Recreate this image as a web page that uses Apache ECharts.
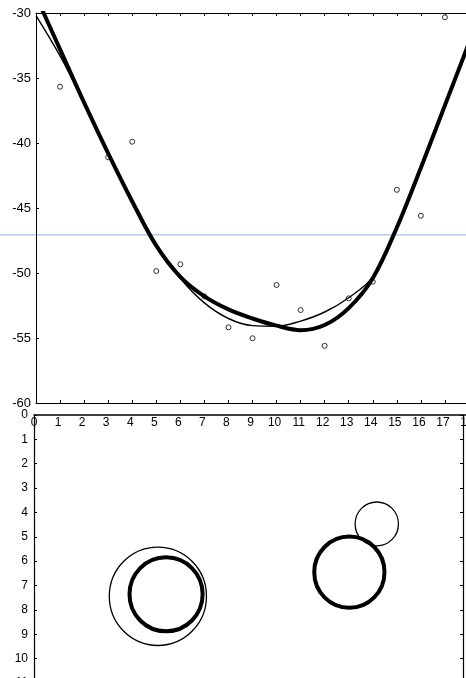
<!DOCTYPE html>
<html><head><meta charset="utf-8">
<script src="https://cdn.jsdelivr.net/npm/echarts@6/dist/echarts.min.js"></script>
<style>html,body{margin:0;padding:0;background:#fff}#c{width:466px;height:678px}</style>
</head><body><div id="c"></div>
<script>
// ---- data ----
const sampleX = [1, 3, 4, 5, 6, 7, 8, 9, 10, 11, 12, 13, 14, 15, 16, 17];
const sampleY = [-35.67, -41.1, -39.9, -49.85, -49.33, -51.8, -54.18, -55.02, -50.92, -52.85, -55.6, -51.95, -50.67, -43.6, -45.6, -30.33];
const fitX = [0, 1, 2, 3, 4, 5, 6, 7, 8, 9, 10, 11, 12, 13, 14, 15, 16, 17, 18];
const thickFit = [-28.7, -32.8, -36.9, -40.8, -44.5, -47.9, -50.3, -51.8, -52.8, -53.5, -54.05, -54.4, -54.0, -52.7, -50.4, -46.5, -41.9, -37.1, -32.3];
const thinFit = [-30.2, -33.3, -36.9, -40.7, -44.4, -47.8, -50.4, -52.3, -53.5, -54.05, -54.1, -53.7, -53.0, -51.9, -50.3, -46.5, -41.9, -37.1, -32.3];
const topYTicks = [-60, -55, -50, -45, -40, -35, -30];
const bottomXTicks = [0, 1, 2, 3, 4, 5, 6, 7, 8, 9, 10, 11, 12, 13, 14, 15, 16, 17, 18];
const bottomYTicks = [0, 1, 2, 3, 4, 5, 6, 7, 8, 9, 10, 11];
// circles: [centerX, centerY, radius]
const thickCircles = [[5.49, 7.36, 1.52], [13.11, 6.45, 1.46]];
const thinCircles = [[5.15, 7.44, 2.02], [14.25, 4.47, 0.9]];

const zip = (a, b) => a.map((v, i) => [v, b[i]]);
const FONT = 'Liberation Sans';
const black = '#000';

function circleRenderer(width) {
  return function (params, api) {
    const c = api.coord([api.value(0), api.value(1)]);
    const s = api.size([api.value(2), api.value(2)]);
    return {
      type: 'ellipse',
      shape: { cx: c[0], cy: c[1], rx: s[0], ry: s[1] },
      style: { fill: 'none', stroke: black, lineWidth: width }
    };
  };
}

const chart = echarts.init(document.getElementById('c'), null, { renderer: 'canvas' });
chart.setOption({
  backgroundColor: '#fff',
  animation: false,
  grid: [
    { left: 36, top: 13, width: 433, height: 390, outerBoundsMode: 'none', containLabel: false },
    { left: 34, top: 415, width: 433, height: 268, outerBoundsMode: 'none', containLabel: false }
  ],
  graphic: [
    { type: 'rect', left: 0, top: 234, z: -1, silent: true,
      shape: { width: 466, height: 1.5 }, style: { fill: '#b4ccef' } }
  ],
  xAxis: [
    { gridIndex: 0, type: 'value', min: bottomXTicks[0], max: bottomXTicks[bottomXTicks.length - 1], interval: 1, position: 'bottom',
      axisLine: { show: true, lineStyle: { color: black, width: 1 } },
      axisTick: { show: true, inside: true, length: 3, lineStyle: { color: black } },
      axisLabel: { show: false }, splitLine: { show: false } },
    { gridIndex: 0, type: 'value', min: bottomXTicks[0], max: bottomXTicks[bottomXTicks.length - 1], interval: 1, position: 'top',
      axisLine: { show: true, lineStyle: { color: black, width: 1 } },
      axisTick: { show: true, inside: true, length: 3, lineStyle: { color: black } },
      axisLabel: { show: false }, splitLine: { show: false } },
    { gridIndex: 1, type: 'value', min: bottomXTicks[0], max: bottomXTicks[bottomXTicks.length - 1], interval: 1, position: 'top',
      axisLine: { show: true, lineStyle: { color: black, width: 1.5 } },
      axisTick: { show: false },
      axisLabel: { show: true, inside: true, margin: 2, color: black, fontSize: 12, fontFamily: FONT,
        formatter: v => bottomXTicks.includes(v) ? String(v) : '' },
      splitLine: { show: false } }
  ],
  yAxis: [
    { gridIndex: 0, type: 'value', min: topYTicks[0], max: topYTicks[topYTicks.length - 1], interval: 5,
      axisLine: { show: true, lineStyle: { color: black, width: 1 } },
      axisTick: { show: true, inside: true, length: 3, lineStyle: { color: black } },
      axisLabel: { color: black, fontSize: 13, fontFamily: FONT, margin: 5,
        formatter: v => topYTicks.includes(v) ? String(v) : '' },
      splitLine: { show: false } },
    { gridIndex: 1, type: 'value', inverse: true, min: bottomYTicks[0], max: bottomYTicks[bottomYTicks.length - 1], interval: 1, position: 'left',
      axisLine: { show: true, lineStyle: { color: black, width: 1.2 } },
      axisTick: { show: true, inside: true, length: 3, lineStyle: { color: black } },
      axisLabel: { color: black, fontSize: 12, fontFamily: FONT, margin: 6,
        formatter: v => bottomYTicks.includes(v) ? String(v) : '' },
      splitLine: { show: false } },
    { gridIndex: 1, type: 'value', inverse: true, min: bottomYTicks[0], max: bottomYTicks[bottomYTicks.length - 1], interval: 1, position: 'right', offset: -4,
      axisLine: { show: true, lineStyle: { color: black, width: 1.2 } },
      axisTick: { show: true, inside: true, length: 3, lineStyle: { color: black } },
      axisLabel: { show: false }, splitLine: { show: false } }
  ],
  series: [
    { type: 'scatter', xAxisIndex: 0, yAxisIndex: 0, data: zip(sampleX, sampleY),
      symbol: 'circle', symbolSize: 5, z: 1,
      itemStyle: { color: '#fff', borderColor: black, borderWidth: 1 } },
    { type: 'line', xAxisIndex: 0, yAxisIndex: 0, data: zip(fitX, thinFit),
      smooth: 0.35, showSymbol: false, z: 2, clip: true,
      lineStyle: { color: black, width: 1.4 } },
    { type: 'line', xAxisIndex: 0, yAxisIndex: 0, data: zip(fitX, thickFit),
      smooth: 0.35, showSymbol: false, z: 3, clip: true,
      lineStyle: { color: black, width: 4 } },
    { type: 'custom', xAxisIndex: 2, yAxisIndex: 1, data: thinCircles,
      renderItem: circleRenderer(1.3), clip: false },
    { type: 'custom', xAxisIndex: 2, yAxisIndex: 1, data: thickCircles,
      renderItem: circleRenderer(4), clip: false }
  ]
});
</script></body></html>
